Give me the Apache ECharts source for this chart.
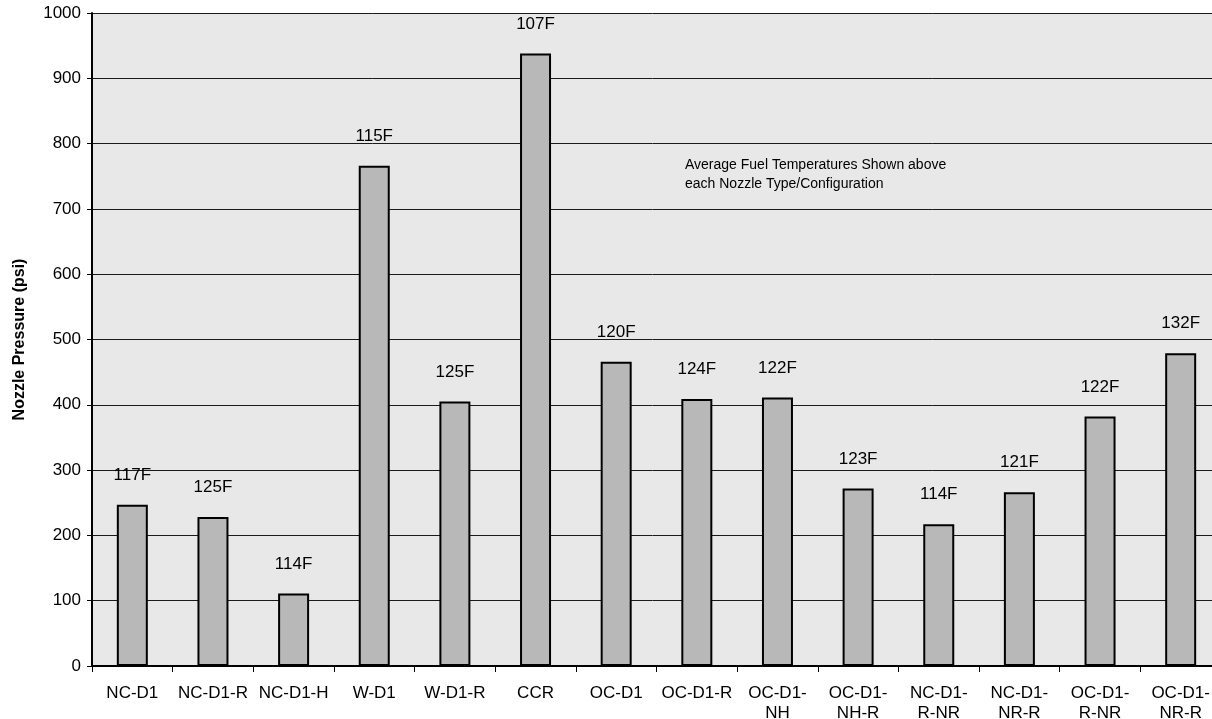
<!DOCTYPE html>
<html>
<head>
<meta charset="utf-8">
<script src="https://cdn.jsdelivr.net/npm/echarts@6/dist/echarts.min.js"></script>
<style>
  html, body { margin: 0; padding: 0; background: #ffffff; }
  #chart { width: 1212px; height: 719px; }
</style>
</head>
<body>
<div id="chart"></div>
<script>
// Nozzle types / configurations tested
var nozzles = ['NC-D1', 'NC-D1-R', 'NC-D1-H', 'W-D1', 'W-D1-R', 'CCR', 'OC-D1', 'OC-D1-R',
               'OC-D1-NH', 'OC-D1-NH-R', 'NC-D1-R-NR', 'NC-D1-NR-R', 'OC-D1-R-NR', 'OC-D1-NR-R'];
// Nozzle pressure in psi
var pressure = [247, 228, 111, 766, 405, 938, 466, 409, 411, 272, 217, 266, 382, 479];
// Average fuel temperature (°F) for each nozzle
var fuelTemp = [117, 125, 114, 115, 125, 107, 120, 124, 122, 123, 114, 121, 122, 132];
// Value axis ticks
var yMin = 0, yMax = 1000, yStep = 100;

var font = '"Liberation Sans", Arial, sans-serif';
var chart = echarts.init(document.getElementById('chart'), null, { renderer: 'canvas' });

chart.setOption({
  animation: false,
  backgroundColor: '#ffffff',
  grid: {
    left: 92, top: 13, width: 1129, bottom: 53,
    containLabel: false,
    outerBoundsMode: 'none',
    show: true, backgroundColor: '#e8e8e8', borderWidth: 0
  },
  xAxis: {
    type: 'category',
    data: nozzles,
    axisLine: { show: true, lineStyle: { color: '#000', width: 2 } },
    axisTick: { show: true, alignWithLabel: false, length: 6, lineStyle: { color: '#000', width: 1 } },
    axisLabel: {
      interval: 0, margin: 17, color: '#000', fontFamily: font, fontSize: 17, lineHeight: 20,
      formatter: function (name) {
        // long configuration names wrap after the "XX-D1-" prefix
        return name.length > 7 ? name.slice(0, 6) + '\n' + name.slice(6) : name;
      }
    },
    splitLine: { show: false }
  },
  yAxis: {
    type: 'value',
    min: yMin, max: yMax, interval: yStep,
    name: 'Nozzle Pressure (psi)',
    nameLocation: 'middle',
    nameGap: 64,
    nameTextStyle: { color: '#000', fontFamily: font, fontSize: 16, fontWeight: 'bold' },
    axisLine: { show: true, lineStyle: { color: '#000', width: 2 } },
    axisTick: { show: true, inside: false, length: 5, lineStyle: { color: '#000', width: 1 } },
    axisLabel: {
      margin: 11, color: '#000', fontFamily: font, fontSize: 17,
      formatter: function (v) { return String(v); }
    },
    splitLine: { show: true, lineStyle: { color: '#1a1a1a', width: 1 } }
  },
  series: [{
    type: 'bar',
    data: pressure,
    barWidth: 31,
    itemStyle: { color: '#b8b8b8', borderColor: '#000', borderWidth: 2 },
    label: {
      show: true,
      position: 'top',
      distance: 21,
      color: '#000',
      fontFamily: font,
      fontSize: 17,
      formatter: function (p) { return fuelTemp[p.dataIndex] + 'F'; }
    }
  }],
  graphic: [{
    type: 'text',
    left: 685,
    top: 156,
    style: {
      text: 'Average Fuel Temperatures Shown above\neach Nozzle Type/Configuration',
      font: '14px ' + font,
      fill: '#000',
      lineHeight: 19
    }
  }]
});
</script>
</body>
</html>
